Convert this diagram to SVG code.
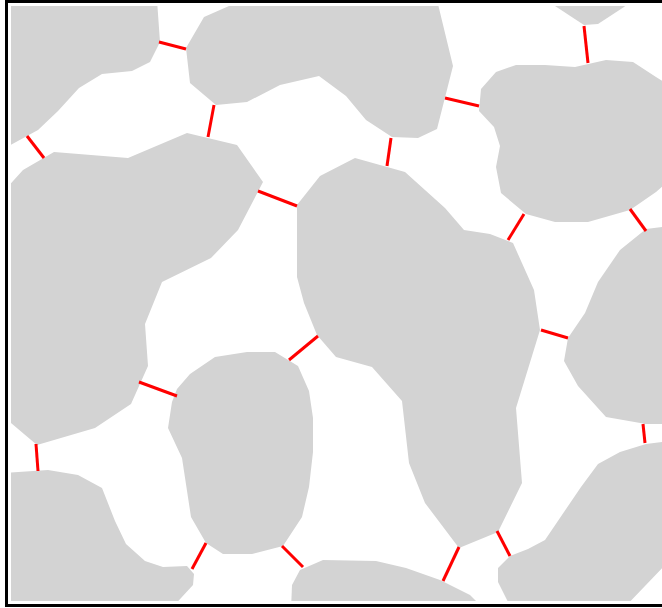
<svg xmlns="http://www.w3.org/2000/svg" width="662" height="608" viewBox="0 0 662 608">
<style>
.g{fill:#d3d3d3;stroke:none}
.c line{stroke:#ff0000;stroke-width:3}
</style>
<defs><clipPath id="cp"><rect x="11" y="6" width="651" height="595"/></clipPath></defs>
<rect x="0" y="0" width="662" height="608" fill="#ffffff"/>
<g clip-path="url(#cp)">
<g id="A"><polygon class="g" points="5,0 157,0 160,42 150,62 132,71 102,74 79,88 58,111 38,130 5,148"/></g>
<g id="B"><polygon class="g" points="229,0 437,0 453,66 437,129 418,138 392,137 366,120 346,96 319,76 280,85 247,102 216,105 190,83 186,48 204,17 229,6"/></g>
<g id="C"><polygon class="g" points="548,0 555,6 584,25 598,24 624,7 632,0"/></g>
<g id="D"><polygon class="g" points="481,89 496,72 516,65 545,65 575,67 606,60 633,62 656,77 670,86 670,180 656,192 630,210 588,222 555,222 526,214 501,193 496,167 500,146 494,127 479,111"/></g>
<g id="E"><polygon class="g" points="5,190 23,170 54,152 128,158 187,133 237,145 263,182 238,230 211,258 162,282 145,324 148,366 131,404 95,428 37,445 5,418"/></g>
<g id="F"><polygon class="g" points="297,205 320,176 355,158 405,172 445,208 464,230 490,234 513,243 534,290 540,330 516,408 522,483 498,532 459,548 425,503 409,463 402,401 372,367 336,357 317,335 304,303 297,277"/></g>
<g id="G"><polygon class="g" points="646,229 670,226 670,424 646,424 606,417 578,386 564,361 568,338 585,313 598,282 620,250"/></g>
<g id="H"><polygon class="g" points="177,389 190,374 215,357 247,352 275,352 298,366 309,391 313,418 313,452 309,487 302,517 283,546 252,554 223,554 206,543 191,517 182,458 168,428 172,402"/></g>
<g id="I"><polygon class="g" points="5,473 48,470 78,475 102,488 115,521 126,544 145,561 163,567 187,566 194,574 193,585 170,610 5,610"/></g>
<g id="J"><polygon class="g" points="291,610 292,585 300,570 323,560 376,561 406,568 440,580 470,595 485,610"/></g>
<g id="K"><polygon class="g" points="498,568 510,556 528,549 545,540 564,512 581,487 598,464 620,452 646,444 670,441 670,560 622,610 512,610 498,582"/></g>
</g>
<g id="connectors" class="c">
<line x1="159" y1="42" x2="186" y2="49"/>
<line x1="27" y1="136" x2="44" y2="158"/>
<line x1="214" y1="105" x2="208" y2="137"/>
<line x1="258" y1="191" x2="297" y2="206"/>
<line x1="391" y1="138" x2="387" y2="166"/>
<line x1="445" y1="98" x2="479" y2="106"/>
<line x1="584" y1="26" x2="588" y2="63"/>
<line x1="524" y1="214" x2="508" y2="240"/>
<line x1="630" y1="209" x2="646" y2="231"/>
<line x1="541" y1="330" x2="568" y2="338"/>
<line x1="643" y1="424" x2="645" y2="443"/>
<line x1="139" y1="382" x2="177" y2="396"/>
<line x1="289" y1="360" x2="318" y2="336"/>
<line x1="36" y1="444" x2="38" y2="471"/>
<line x1="206" y1="543" x2="192" y2="569"/>
<line x1="282" y1="546" x2="303" y2="567"/>
<line x1="459" y1="547" x2="443" y2="581"/>
<line x1="497" y1="531" x2="510" y2="556"/>
</g>
<rect x="6.5" y="1.5" width="700" height="604" fill="none" stroke="#000000" stroke-width="3"/>
</svg>
